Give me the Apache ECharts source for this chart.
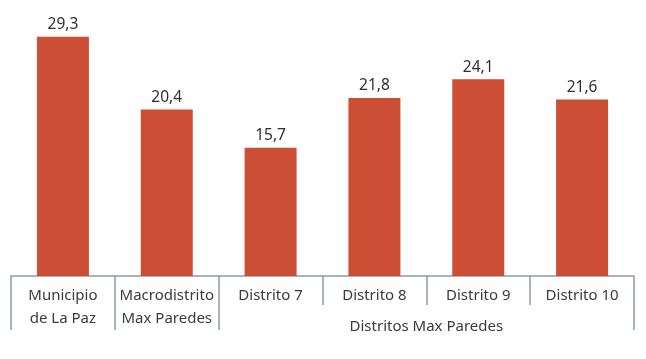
<!DOCTYPE html>
<html><head><meta charset="utf-8">
<script src="https://cdn.jsdelivr.net/npm/echarts@6/dist/echarts.min.js"></script>
<style>html,body{margin:0;padding:0;background:#fff}#c{width:646px;height:359px}</style>
</head><body><div id="c"></div>
<script>
const categories = ['Municipio\nde La Paz', 'Macrodistrito\nMax Paredes', 'Distrito 7', 'Distrito 8', 'Distrito 9', 'Distrito 10'];
const values = [29.3, 20.4, 15.7, 21.8, 24.1, 21.6];
const groupLabel = 'Distritos Max Paredes';

const chart = echarts.init(document.getElementById('c'));
const font = 'Noto Sans';
const axisColor = '#8A9AA8';
chart.setOption({
  animation: false,
  grid: { left: 11, right: 12, top: 31, bottom: 83 },
  xAxis: [{
    type: 'category',
    data: categories,
    position: 'bottom',
    axisLine: { show: true, lineStyle: { color: axisColor, width: 1.5 } },
    axisTick: { show: true, interval: 0, length: 29, lineStyle: { color: axisColor, width: 1.5 } },
    axisLabel: { interval: 0, color: '#3a3a3a', fontFamily: font, fontSize: 15, lineHeight: 23, margin: 8 }
  }, {
    type: 'value',
    min: 0, max: 6,
    position: 'bottom',
    axisLine: { show: false },
    splitLine: { show: false },
    axisTick: { show: true, length: 54, customValues: [0, 1, 2, 6], lineStyle: { color: axisColor, width: 1.5 } },
    axisLabel: { customValues: [4], formatter: () => groupLabel, color: '#3a3a3a', fontFamily: font, fontSize: 15, lineHeight: 23, margin: 39 }
  }],
  yAxis: { type: 'value', min: 0, max: 30, show: false, splitLine: { show: false } },
  series: [{
    type: 'bar',
    data: values,
    barWidth: 52,
    itemStyle: { color: '#CB4E35' },
    label: {
      show: true, position: 'top', distance: 4,
      color: '#2f2f2f', fontFamily: font, fontSize: 15.5,
      formatter: p => p.value.toFixed(1).replace('.', ',')
    }
  }]
});
</script></body></html>
